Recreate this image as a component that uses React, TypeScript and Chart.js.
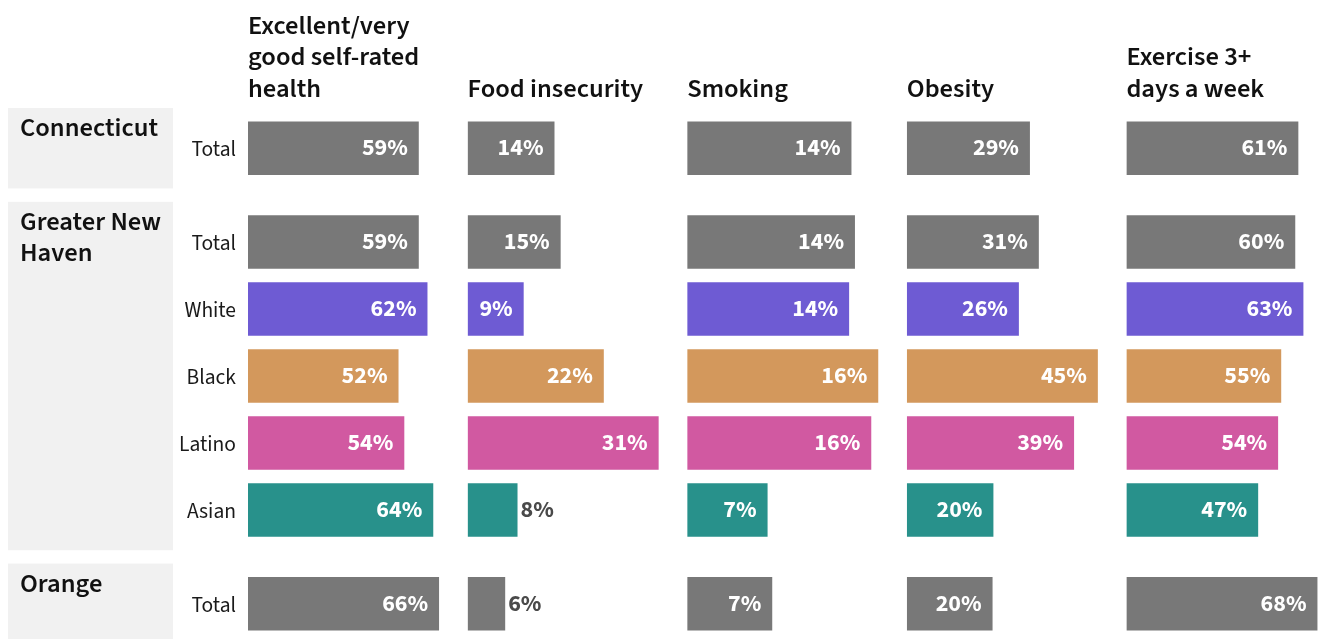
import React, { useEffect, useRef } from 'react';
import { Chart, registerables } from 'chart.js';

Chart.register(...registerables);

// ---------- data ----------
const groups = ['Connecticut', 'Greater New Haven', 'Orange'];
const rowLabels = ['Total', 'Total', 'White', 'Black', 'Latino', 'Asian', 'Total'];
const rowGroups = [0, 1, 1, 1, 1, 1, 2];

const measureTitles = [
  ['Excellent/very', 'good self-rated', 'health'],
  ['Food insecurity'],
  ['Smoking'],
  ['Obesity'],
  ['Exercise 3+', 'days a week'],
];

const healthValues = [59, 59, 62, 52, 54, 64, 66];
const foodValues = [14.1, 15.1, 9.1, 22.1, 31, 8.1, 6.1];
const smokingValues = [14.1, 14.4, 13.9, 16.4, 15.8, 6.9, 7.3];
const obesityValues = [29, 31.1, 26.4, 45, 39.4, 20.4, 20.2];
const exerciseValues = [61.2, 60.1, 63, 55.1, 54, 46.9, 68];

const seriesValues = [healthValues, foodValues, smokingValues, obesityValues, exerciseValues];

// ---------- styles ----------
const FONT = '"Source Sans 3", "Source Sans Pro", Lato, sans-serif';
const rowColors: Record<string, string> = {
  Total: '#787878',
  White: '#6e5bd3',
  Black: '#d3985c',
  Latino: '#d159a1',
  Asian: '#28918b',
};
const BAR_FILL = 0.87; // share of each column the longest bar takes
const GROUP_GAP = 0.4; // extra space between groups, in row units
const BAND_PAD = 0.6; // band extends this much around first/last row

const rowPos = rowGroups.map((g, i) => i + g * GROUP_GAP);

function groupRange(g: number) {
  const idx = rowGroups.map((x, i) => (x === g ? i : -1)).filter((i) => i >= 0);
  return [rowPos[idx[0]] - BAND_PAD, rowPos[idx[idx.length - 1]] + BAND_PAD];
}

function wrapText(ctx: CanvasRenderingContext2D, text: string, maxW: number) {
  const words = text.split(' ');
  const lines: string[] = [];
  let cur = '';
  for (const w of words) {
    const test = cur ? cur + ' ' + w : w;
    if (cur && ctx.measureText(test).width > maxW) {
      lines.push(cur);
      cur = w;
    } else cur = test;
  }
  if (cur) lines.push(cur);
  return lines;
}

const groupBands = {
  id: 'groupBands',
  beforeDraw(chart: any) {
    const y = chart.scales.y;
    const ctx = chart.ctx as CanvasRenderingContext2D;
    ctx.save();
    groups.forEach((name, g) => {
      const [a, b] = groupRange(g);
      const top = y.getPixelForValue(a);
      const bottom = y.getPixelForValue(b);
      ctx.fillStyle = '#f1f1f1';
      ctx.fillRect(8, top, 165, bottom - top);
      ctx.fillStyle = '#111111';
      ctx.font = `600 26.5px ${FONT}`;
      ctx.textAlign = 'left';
      ctx.textBaseline = 'alphabetic';
      const lines = wrapText(ctx, name, 150);
      lines.forEach((ln, k) => ctx.fillText(ln, 20, top + 28 + k * 31.5));
    });
    ctx.restore();
  },
};

const valueLabels = {
  id: 'valueLabels',
  afterDatasetsDraw(chart: any) {
    const ctx = chart.ctx as CanvasRenderingContext2D;
    ctx.save();
    ctx.font = `700 24px ${FONT}`;
    ctx.textBaseline = 'middle';
    chart.data.datasets.forEach((_ds: any, i: number) => {
      const meta = chart.getDatasetMeta(i);
      meta.data.forEach((el: any, j: number) => {
        const text = Math.round(seriesValues[i][j]) + '%';
        const w = ctx.measureText(text).width;
        const barW = el.x - el.base;
        if (barW >= w + 20) {
          ctx.fillStyle = '#ffffff';
          ctx.textAlign = 'right';
          ctx.fillText(text, el.x - 11, el.y + 1.5);
        } else {
          ctx.fillStyle = '#4a4a4a';
          ctx.textAlign = 'left';
          ctx.fillText(text, el.x + 3, el.y + 1.5);
        }
      });
    });
    ctx.restore();
  },
};

function padTitle(lines: string[]) {
  const out = [...lines];
  while (out.length < 3) out.unshift('');
  return out;
}

export default function App() {
  const ref = useRef<HTMLCanvasElement>(null);

  useEffect(() => {
    const scales: any = {};
    seriesValues.forEach((vals, i) => {
      scales['x' + i] = {
        type: 'linear',
        axis: 'x',
        position: 'top',
        stack: 'measures',
        stackWeight: 1,
        weight: seriesValues.length - i,
        min: 0,
        max: Math.max(...vals) / BAR_FILL,
        grid: { display: false, drawTicks: false },
        border: { display: false },
        ticks: { display: false },
        title: {
          display: true,
          text: padTitle(measureTitles[i]),
          align: 'start',
          color: '#111111',
          font: { family: FONT, size: 26.5, weight: '600', lineHeight: 1.19 },
          padding: { top: 12, bottom: 1.4 },
        },
      };
    });
    const [yMin] = groupRange(0);
    const [, yMax] = groupRange(groups.length - 1);
    scales.y = {
      type: 'linear',
      position: 'left',
      reverse: true,
      offset: false,
      min: yMin,
      max: yMax,
      afterBuildTicks: (s: any) => {
        s.ticks = rowPos.map((v) => ({ value: v }));
      },
      afterFit: (s: any) => {
        s.width = 248;
        s.paddingTop = 0;
        s.paddingBottom = 0;
      },
      grid: { display: false, drawTicks: false },
      border: { display: false },
      ticks: {
        autoSkip: false,
        padding: 12,
        labelOffset: 3,
        color: '#1a1a1a',
        font: { family: FONT, size: 21.5, weight: '400' },
        callback: (_v: any, i: number) => rowLabels[i],
      },
    };

    const chart = new Chart(ref.current!, {
      type: 'bar',
      data: {
        datasets: seriesValues.map((vals, i) => ({
          label: measureTitles[i].join(' '),
          data: vals.map((v, j) => ({ x: v, y: rowPos[j] })),
          xAxisID: 'x' + i,
          yAxisID: 'y',
          backgroundColor: rowLabels.map((l) => rowColors[l]),
          borderWidth: 0,
          grouped: false,
          categoryPercentage: 0.8,
          barPercentage: 1,
        })) as any,
      },
      options: {
        indexAxis: 'y',
        responsive: false,
        animation: false,
        events: [],
        layout: { padding: 0 },
        plugins: { legend: { display: false }, tooltip: { enabled: false } },
        scales,
      },
      plugins: [groupBands, valueLabels],
    } as any);
    return () => chart.destroy();
  }, []);

  return (
    <div
      style={{
        position: 'fixed',
        left: 0,
        top: 0,
        width: 1320,
        height: 639,
        overflow: 'hidden',
        background: '#ffffff',
      }}
    >
      <canvas ref={ref} width={1346} height={644} style={{ display: 'block' }} />
    </div>
  );
}
